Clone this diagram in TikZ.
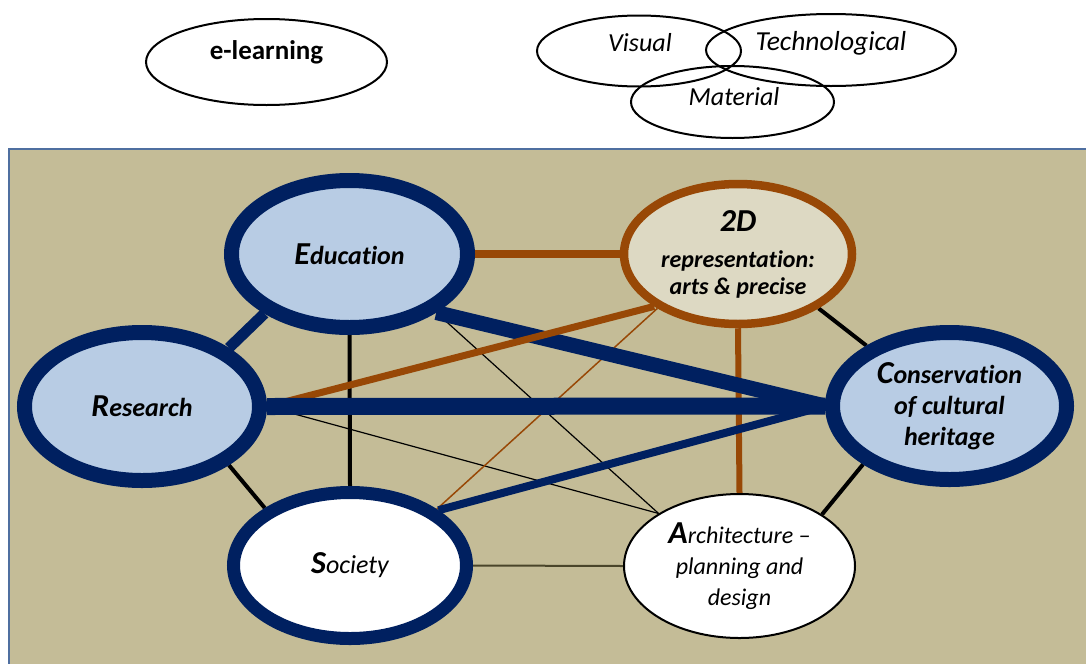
\documentclass[tikz,border=0pt]{standalone}
\usepackage{fontspec}
\setmainfont{Carlito}[Ligatures=NoCommon]
\usetikzlibrary{shapes.geometric}
\pgfdeclarelayer{bglayer}
\pgfdeclarelayer{edgelayer}
\pgfsetlayers{bglayer,edgelayer,main}
\definecolor{cNavy}{RGB}{0,32,96}
\definecolor{cLight}{RGB}{184,204,228}
\definecolor{cTan}{RGB}{196,188,151}
\definecolor{cBrown}{RGB}{152,72,6}
\definecolor{cPale}{RGB}{221,217,195}
\definecolor{cFrame}{RGB}{79,111,160}
\definecolor{cOlive}{RGB}{74,69,42}
\newcommand{\bigini}[1]{{\fontsize{32}{32}\selectfont\bfseries #1}}
\begin{document}
\begin{tikzpicture}[x=1pt,y=-1pt,
  topell/.style={ellipse, draw=black, line width=2pt, inner sep=0pt},
  toptext/.style={font=\fontsize{26}{30}\selectfont\itshape, inner sep=0pt},
  hub/.style={ellipse, draw=cNavy, line width=15pt, fill=cLight, inner sep=0pt, align=center},
  navyln/.style={draw=cNavy},
  brownln/.style={draw=cBrown},
  blackln/.style={draw=black}
]
\useasboundingbox (0,0) rectangle (1086,664);

% top ellipses
\node[topell, minimum width=241pt, minimum height=86pt] (elearn) at (266.5,62) {};
\node[font=\fontsize{27}{30}\selectfont\bfseries, inner sep=0pt] (elearnt) at (266.5,52) {e-learning};
\node[topell, minimum width=204pt, minimum height=71pt] (visual) at (639,51) {};
\node[topell, minimum width=250pt, minimum height=72pt] (techn) at (831,50) {};
\node[topell, minimum width=203pt, minimum height=72pt] (mater) at (732.5,102) {};
\node[toptext] (visualt) at (640,43) {Visual};
\node[toptext, font=\fontsize{27.5}{30}\selectfont\itshape] (techt) at (831,43) {Technological};
\node[toptext] (matert) at (734,97) {Material};

% main nodes
\node[hub, minimum width=236pt, minimum height=147pt,
      font=\fontsize{26}{30}\selectfont\bfseries\itshape] (edu) at (349.5,254) {\bigini{E}ducation};
\node[hub, minimum width=235pt, minimum height=148pt,
      font=\fontsize{26}{30}\selectfont\bfseries\itshape] (res) at (142,406.5) {\bigini{R}esearch};
\node[hub, minimum width=234pt, minimum height=147pt,
      font=\fontsize{26}{31}\selectfont\bfseries\itshape] (cons) at (949.5,406) {\bigini{C}onservation\\of cultural\\heritage};
\node[hub, fill=white, line width=13pt, minimum width=233pt, minimum height=146pt,
      font=\fontsize{26}{30}\selectfont\itshape] (soc) at (350,565.5) {\bigini{S}ociety};
\node[ellipse, draw=cBrown, line width=8.5pt, fill=cPale, inner sep=0pt, align=center,
      minimum width=228pt, minimum height=140pt,
      font=\fontsize{24}{27}\selectfont\bfseries\itshape] (twod) at (738,254)
      {{\fontsize{32}{32}\selectfont 2D}\\[9pt]representation:\\arts \& precise};
\node[ellipse, draw=black, line width=2pt, fill=white, inner sep=0pt, align=center,
      minimum width=231pt, minimum height=144pt,
      font=\fontsize{24}{31}\selectfont\itshape] (arch) at (739.5,566)
      {\bigini{A}rchitecture --\\planning and\\design};

\begin{pgfonlayer}{bglayer}
  \fill[cTan] (9,149) coordinate (bgtl) rectangle (1086,664) coordinate (bgbr);
  \draw[cFrame, line width=2pt] (bgtl -| bgbr) -- (bgtl) -- (bgtl |- bgbr);
\end{pgfonlayer}

\begin{pgfonlayer}{edgelayer}
  % thin lines
  \draw[blackln, line width=1.2pt] (edu.-34.5) -- (arch.147.5);
  \draw[blackln, line width=1.2pt] (res.east) -- (arch.147.5);
  \draw[cOlive, line width=2pt] (soc.east) -- (arch.west);
  \draw[brownln, line width=1.5pt] (soc.33.5) -- (twod.214.3);
  % medium black
  \draw[blackln, line width=4pt] (res.-34.6) -- (soc.146.3);
  \draw[blackln, line width=4pt] (edu.south) -- (soc.north);
  \draw[blackln, line width=4pt] (twod.-34.3) -- (cons.144.9);
  \draw[blackln, line width=4pt] (cons.214.1) -- (arch.32.4);
  % brown
  \draw[brownln, line width=6pt] (twod.south) -- (arch.north);
  \draw[brownln, line width=8pt] (edu.east) -- (twod.west);
  % navy and brown
  \draw[navyln, line width=15pt] (edu.-34.4) -- (cons.west);
  \draw[brownln, line width=7pt] (res.east) -- (twod.212.7);
  \draw[navyln, line width=11pt] (res.34.3) -- (edu.215);
  \draw[navyln, line width=8pt] (soc.32.2) -- (cons.west);
  \draw[navyln, line width=17pt] (res.east) -- (cons.west);
\end{pgfonlayer}
\end{tikzpicture}
\end{document}
